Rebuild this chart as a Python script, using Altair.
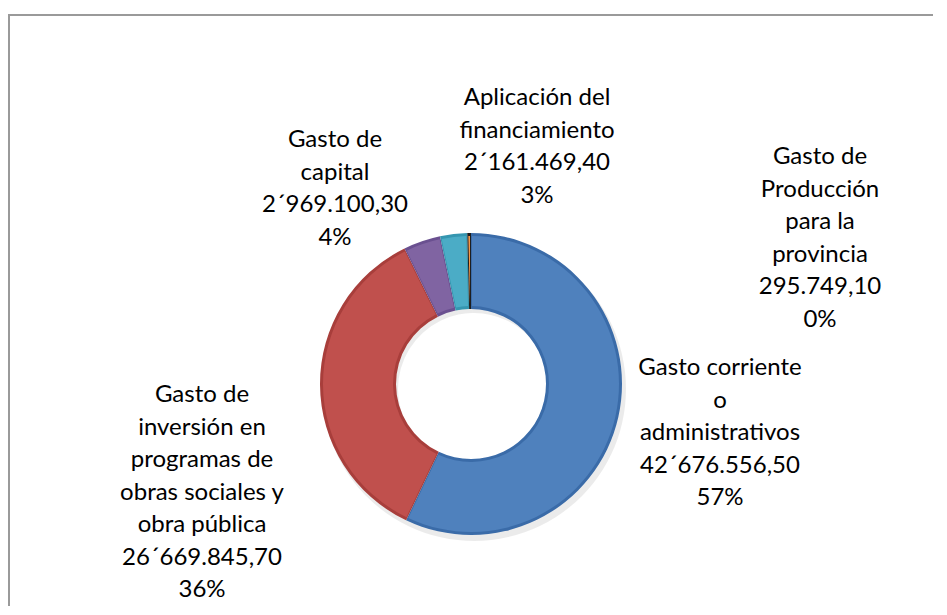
import altair as alt
import pandas as pd

# ---- data ----
categories = [
    "Gasto corriente o administrativos",
    "Gasto de inversión en programas de obras sociales y obra pública",
    "Gasto de capital",
    "Aplicación del financiamiento",
    "Gasto de Producción para la provincia",
]
values = [42676556.50, 26669845.70, 2969100.30, 2161469.40, 295749.10]
value_labels = ["42´676.556,50", "26´669.845,70", "2´969.100,30", "2´161.469,40", "295.749,10"]
percent_labels = ["57%", "36%", "4%", "3%", "0%"]
label_lines = [
    ["Gasto corriente", "o", "administrativos"],
    ["Gasto de", "inversión en", "programas de", "obras sociales y", "obra pública"],
    ["Gasto de", "capital"],
    ["Aplicación del", "financiamiento"],
    ["Gasto de", "Producción", "para la", "provincia"],
]

# ---- styling / layout ----
main_colors = ["#4F81BD", "#C0504D", "#8064A2", "#4BACC6", "#F79646"]
edge_colors = ["#3A6BA8", "#A83E3B", "#6A5090", "#3596B0", "#1E1E1E"]
W, H = 925, 598
CX, CY = 463, 376
R_OUT, R_IN = 151, 75
FONT = "Lato"
FSIZE = 24
LH = 32.5
# centre of the first line of each label block
label_pos = [(712, 360), (194, 387), (327, 132), (529, 90), (812, 149)]

df = pd.DataFrame({
    "cat": categories,
    "face": categories,
    "value": values,
    "idx": list(range(len(categories))),
})

theta = alt.Theta("value:Q", stack=True)
order = alt.Order("idx:Q", sort="ascending")

base = alt.Chart(df)

shadow = base.mark_arc(innerRadius=R_IN + 1, outerRadius=R_OUT + 1, color="#000000", opacity=0.08).encode(
    theta=theta, order=order, x=alt.value(CX + 3), y=alt.value(CY + 5)
)

edge = base.mark_arc(innerRadius=R_IN, outerRadius=R_OUT).encode(
    theta=theta, order=order,
    color=alt.Color("cat:N", scale=alt.Scale(domain=categories, range=edge_colors), legend=None),
    x=alt.value(CX), y=alt.value(CY),
)

face = base.mark_arc(innerRadius=R_IN + 3, outerRadius=R_OUT - 3, padAngle=0.012).encode(
    theta=theta, order=order,
    fill=alt.Fill("face:N", scale=alt.Scale(domain=categories, range=main_colors), legend=None),
    x=alt.value(CX), y=alt.value(CY),
)

layers = [shadow, edge, face]

for i, (px, py) in enumerate(label_pos):
    lines = label_lines[i] + [value_labels[i], percent_labels[i]]
    txt = alt.Chart(pd.DataFrame({"t": [lines]})).mark_text(
        font=FONT, fontSize=FSIZE, lineHeight=LH, align="center", baseline="middle", color="#000000"
    ).encode(text="t", x=alt.value(px), y=alt.value(py))
    layers.append(txt)

border_top = alt.Chart(pd.DataFrame({"a": [0]})).mark_rule(color="#9a9a9a", strokeWidth=2).encode(
    x=alt.value(0), x2=alt.value(W + 20), y=alt.value(7)
)
border_left = alt.Chart(pd.DataFrame({"a": [0]})).mark_rule(color="#9a9a9a", strokeWidth=2).encode(
    x=alt.value(1), y=alt.value(6), y2=alt.value(H + 20)
)
layers += [border_top, border_left]

chart = alt.layer(*layers).resolve_scale(color="independent", fill="independent").properties(
    width=W, height=H, padding=0, autosize=alt.AutoSizeParams(type="none")
).configure_view(stroke=None)

chart.save("out.html", embed_options={"renderer": "svg", "actions": False})
